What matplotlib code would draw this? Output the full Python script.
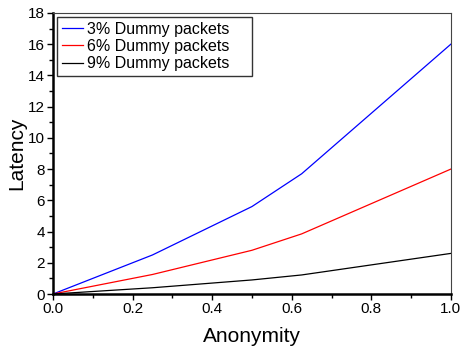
import numpy as np
import matplotlib
matplotlib.use("Agg")
from matplotlib import pyplot as plt
from matplotlib.ticker import MultipleLocator

# 数据
anonymity = [0.0, 0.25, 0.5, 0.625, 1.0]
latency_3 = [0.0, 2.5, 5.6, 7.7, 16.0]
latency_6 = [0.0, 1.25, 2.8, 3.85, 8.0]
latency_9 = [0.0, 0.4, 0.9, 1.22, 2.6]
labels = ["3% Dummy packets", "6% Dummy packets", "9% Dummy packets"]

plt.rcParams["font.family"] = ["Liberation Sans", "DejaVu Sans"]

fig = plt.figure(figsize=(4.61, 3.5), dpi=100)
ax = fig.add_axes([0.115, 0.16, 0.863, 0.803])

ax.plot(anonymity, latency_3, c="blue", linewidth=0.9)
ax.plot(anonymity, latency_6, c="red", linewidth=0.9)
ax.plot(anonymity, latency_9, c="black", linewidth=0.9)

ax.set_xlim([0, 1])
ax.set_ylim([0, 18])
ax.xaxis.set_major_locator(MultipleLocator(0.2))
ax.xaxis.set_minor_locator(MultipleLocator(0.1))
ax.yaxis.set_major_locator(MultipleLocator(2))
ax.yaxis.set_minor_locator(MultipleLocator(1))
ax.xaxis.set_major_formatter(plt.FormatStrFormatter("%.1f"))

ax.tick_params(which="major", direction="out", length=4, width=1, labelsize=11, pad=2)
ax.tick_params(which="minor", direction="out", length=3, width=1)
ax.spines["left"].set_linewidth(1.8)
ax.spines["bottom"].set_linewidth(1.8)
ax.spines["top"].set_linewidth(0.8)
ax.spines["right"].set_linewidth(0.8)
ax.spines["top"].set_color("#444444")
ax.spines["right"].set_color("#444444")

ax.set_xlabel("Anonymity", fontsize=15, labelpad=8)
ax.set_ylabel("Latency", fontsize=15, labelpad=1)

# 图例框：左上角，宽度约为坐标区的一半
leg = ax.legend(labels, loc="upper left", bbox_to_anchor=(0.01, 0, 0.49, 0.986),
                mode="expand", borderaxespad=0, fontsize=11.5, fancybox=False,
                framealpha=1, edgecolor="#333333", handlelength=1.3,
                handletextpad=0.3, borderpad=0.3, labelspacing=0.15)
leg.get_frame().set_linewidth(1.0)

fig.savefig("out.png", dpi=100)
